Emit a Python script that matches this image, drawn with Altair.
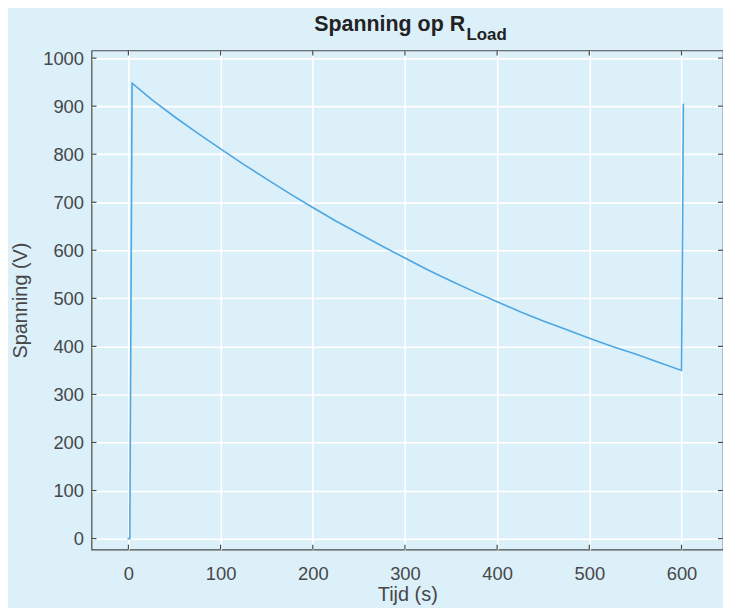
import altair as alt
import pandas as pd

# data
tijd = [-1.0, 1.5, 4.0, 25, 50, 75, 100, 125, 150, 175, 200, 225, 250, 275, 300, 325,
        350, 375, 400, 425, 450, 475, 500, 525, 550, 575, 600, 601, 602]
spanning = [0, 0, 948, 914, 878, 844, 811, 779, 748, 718, 689, 661, 635, 609, 584, 559,
            536, 514, 493, 472, 453, 435, 417, 400, 384, 367, 350, 600, 905]

x_ticks = [0, 100, 200, 300, 400, 500, 600]
y_ticks = [0, 100, 200, 300, 400, 500, 600, 700, 800, 900, 1000]

title_main = "Spanning op R"
title_sub = "Load"

W, H = 635, 502
BG = "#dcf0fa"
FONT = "Liberation Sans"

df = pd.DataFrame({"t": tijd, "v": spanning})
xs = alt.Scale(domain=[-40, 645], nice=False, zero=False)
ys = alt.Scale(domain=[-23, 1016], nice=False, zero=False)

line = alt.Chart(df).mark_line(color="#4ea7e2", strokeWidth=1.6, clip=True).encode(
    x=alt.X("t:Q", scale=xs, title="Tijd (s)",
            axis=alt.Axis(values=x_ticks, format="d", grid=True, gridColor="white", gridWidth=1.6,
                          tickSize=0, labelPadding=15, titleY=51, titleBaseline="alphabetic")),
    y=alt.Y("v:Q", scale=ys, title="Spanning (V)",
            axis=alt.Axis(values=y_ticks, format="d", grid=True, gridColor="white", gridWidth=1.6,
                          tickSize=0, labelPadding=8, titlePadding=12)),
)

xt = pd.DataFrame({"x": x_ticks})
yt = pd.DataFrame({"y": y_ticks})
tick_style = dict(color="#4a4a4a", strokeWidth=1.2)
xb = alt.Chart(xt).mark_rule(**tick_style).encode(x=alt.X("x:Q", scale=xs), y=alt.value(H), y2=alt.value(H - 5))
xtop = alt.Chart(xt).mark_rule(**tick_style).encode(x=alt.X("x:Q", scale=xs), y=alt.value(0), y2=alt.value(5))
yl = alt.Chart(yt).mark_rule(**tick_style).encode(y=alt.Y("y:Q", scale=ys), x=alt.value(0), x2=alt.value(5))
yr = alt.Chart(yt).mark_rule(**tick_style).encode(y=alt.Y("y:Q", scale=ys), x=alt.value(W), x2=alt.value(W - 5))

t1 = alt.Chart(pd.DataFrame({"s": [title_main]})).mark_text(
    font=FONT, fontSize=21.5, fontWeight="bold", color="#222222", align="left", baseline="alphabetic"
).encode(text="s:N", x=alt.value(224), y=alt.value(-20))
t2 = alt.Chart(pd.DataFrame({"s": [title_sub]})).mark_text(
    font=FONT, fontSize=17, fontWeight="bold", color="#222222", align="left", baseline="alphabetic"
).encode(text="s:N", x=alt.value(377), y=alt.value(-10))

chart = alt.layer(line, xb, xtop, yl, yr, t1, t2).properties(
    width=W, height=H, background=BG,
    autosize=alt.AutoSizeParams(type="none"),
    padding={"left": 84, "top": 41, "right": 0, "bottom": 57},
).configure_view(
    fill=BG, stroke="#4a4a4a", strokeWidth=1.2
).configure_axis(
    domain=False, labelFont=FONT, titleFont=FONT, labelFontSize=18.5, titleFontSize=20,
    labelColor="#474747", titleColor="#474747", titleFontWeight="normal",
)

chart.save("out.html", embed_options={"renderer": "svg", "actions": False})
